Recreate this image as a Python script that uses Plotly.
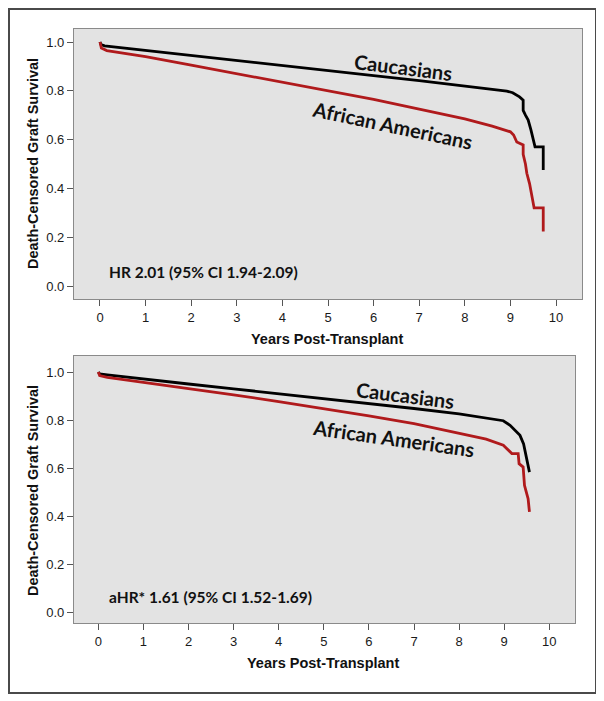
import plotly.graph_objects as go

# ---------------- data ----------------
# Panel 1 (unadjusted)
top_cau_t = [0, 0.02, 0.1, 1, 2, 3, 4, 5, 6, 7, 8, 8.7, 8.92, 9.05, 9.14, 9.2, 9.28, 9.28, 9.33, 9.39, 9.45, 9.50, 9.54, 9.54, 9.72, 9.72]
top_cau_s = [1.0, 0.99, 0.984, 0.965, 0.945, 0.924, 0.903, 0.882, 0.862, 0.842, 0.821, 0.805, 0.799, 0.792, 0.783, 0.775, 0.762, 0.72, 0.70, 0.68, 0.64, 0.60, 0.578, 0.57, 0.57, 0.475]
top_aa_t = [0, 0.03, 0.15, 1, 2, 3, 4, 5, 6, 7, 8, 8.6, 8.92, 9.0, 9.07, 9.14, 9.28, 9.28, 9.33, 9.36, 9.42, 9.47, 9.52, 9.72, 9.72]
top_aa_s = [1.0, 0.975, 0.965, 0.94, 0.905, 0.87, 0.835, 0.80, 0.765, 0.725, 0.685, 0.655, 0.639, 0.632, 0.619, 0.59, 0.578, 0.54, 0.50, 0.462, 0.42, 0.366, 0.32, 0.32, 0.223]

# Panel 2 (adjusted)
bot_cau_t = [0, 0.03, 0.2, 1, 2, 3, 4, 5, 6, 7, 8, 8.6, 8.98, 9.13, 9.24, 9.35, 9.43, 9.48, 9.51, 9.56]
bot_cau_s = [1.0, 0.992, 0.988, 0.97, 0.95, 0.93, 0.91, 0.89, 0.869, 0.848, 0.826, 0.808, 0.797, 0.778, 0.757, 0.736, 0.70, 0.66, 0.625, 0.583]
bot_aa_t = [0, 0.03, 0.2, 1, 2, 3, 4, 5, 6, 7, 8, 8.6, 8.98, 9.09, 9.17, 9.31, 9.33, 9.42, 9.45, 9.48, 9.53, 9.56]
bot_aa_s = [1.0, 0.985, 0.978, 0.958, 0.932, 0.905, 0.877, 0.848, 0.817, 0.785, 0.745, 0.72, 0.695, 0.674, 0.66, 0.66, 0.618, 0.604, 0.528, 0.507, 0.472, 0.417]

x_ticks = [0, 1, 2, 3, 4, 5, 6, 7, 8, 9, 10]
y_ticks = [0.0, 0.2, 0.4, 0.6, 0.8, 1.0]
y_ticks_bot = [0.0, 0.2, 0.4, 0.6, 0.8, 1.0]

group_names = ["Caucasians", "African Americans"]
hr_texts = ["HR 2.01 (95% CI 1.94-2.09)", "aHR* 1.61 (95% CI 1.52-1.69)"]
x_title = "Years Post-Transplant"
y_title = "Death-Censored Graft Survival"

# ---------------- figure ----------------
BLACK = "#000000"
RED = "#b01a1c"
LW = 2.8

fig = go.Figure()
fig.add_trace(go.Scatter(x=top_cau_t, y=top_cau_s, mode="lines", line=dict(color=BLACK, width=LW),
                         xaxis="x", yaxis="y", showlegend=False))
fig.add_trace(go.Scatter(x=top_aa_t, y=top_aa_s, mode="lines", line=dict(color=RED, width=LW),
                         xaxis="x", yaxis="y", showlegend=False))
fig.add_trace(go.Scatter(x=bot_cau_t, y=bot_cau_s, mode="lines", line=dict(color=BLACK, width=LW),
                         xaxis="x2", yaxis="y2", showlegend=False))
fig.add_trace(go.Scatter(x=bot_aa_t, y=bot_aa_s, mode="lines", line=dict(color=RED, width=LW),
                         xaxis="x2", yaxis="y2", showlegend=False))

axis_common = dict(showgrid=False, zeroline=False, showline=True, linecolor="#8a8a8a", linewidth=1.2,
                   mirror=True, ticks="outside", tickcolor="#555555", ticklen=6, tickwidth=1.2,
                   tickfont=dict(family="Liberation Sans, Arial", size=13, color="#1a1a1a"))

# page geometry (the page body adds an 8px offset)
OFF = 8
W, H = 604, 701
L, T = 74 - OFF, 29 - OFF
R = W - (582 - OFF)
B = H - (623 - OFF)
PW, PH = W - L - R, H - T - B

def px_x(px):
    return (px - OFF - L) / PW

def px_y(py):
    return (H - B - (py - OFF)) / PH

fig.update_layout(
    width=W, height=H,
    margin=dict(l=L, r=R, t=T, b=B),
    paper_bgcolor="white",
    plot_bgcolor="#e3e3e3",
    xaxis=dict(domain=[0, 1], anchor="y", range=[-0.57, 10.57], tickvals=x_ticks,
               ticktext=[str(v) for v in x_ticks], **axis_common),
    yaxis=dict(domain=[px_y(299), 1], anchor="x", range=[-0.0533, 1.0533], tickvals=y_ticks,
               ticktext=[f"{v:.1f}" for v in y_ticks], **axis_common),
    xaxis2=dict(domain=[0, px_x(575)], anchor="y2", range=[-0.539, 10.57], tickvals=x_ticks,
                ticktext=[str(v) for v in x_ticks], **axis_common),
    yaxis2=dict(domain=[0, px_y(356)], anchor="x2", range=[-0.0458, 1.0667], tickvals=y_ticks_bot,
                ticktext=[f"{v:.1f}" for v in y_ticks_bot], **axis_common),
)

# outer frame (kept inside the figure canvas)
fig.add_shape(type="rect", xref="paper", yref="paper",
              x0=px_x(9), x1=px_x(596), y0=px_y(693), y1=px_y(9),
              line=dict(color="#4a4a4a", width=2), fillcolor="rgba(0,0,0,0)", layer="above")

ann = []
title_font = dict(family="Liberation Sans, Arial", size=14.5, color="#111111")
# axis titles
ann.append(dict(text=f"<b>{x_title}</b>", xref="paper", yref="paper", x=px_x(327), y=px_y(339),
                showarrow=False, font=title_font, xanchor="center", yanchor="middle"))
ann.append(dict(text=f"<b>{x_title}</b>", xref="paper", yref="paper", x=px_x(323), y=px_y(663),
                showarrow=False, font=title_font, xanchor="center", yanchor="middle"))
ann.append(dict(text=f"<b>{y_title}</b>", xref="paper", yref="paper", x=px_x(33), y=px_y(164),
                showarrow=False, font=title_font, textangle=-90, xanchor="center", yanchor="middle"))
ann.append(dict(text=f"<b>{y_title}</b>", xref="paper", yref="paper", x=px_x(33), y=px_y(491),
                showarrow=False, font=title_font, textangle=-90, xanchor="center", yanchor="middle"))

label_font = dict(family="Lato, Open Sans", size=20, color="#111111")
# curve labels
ann.append(dict(text=f"<b>{group_names[0]}</b>", xref="paper", yref="paper", x=px_x(403), y=px_y(67),
                showarrow=False, font=label_font, textangle=7, xanchor="center", yanchor="middle"))
ann.append(dict(text=f"<b>{group_names[1]}</b>", xref="paper", yref="paper", x=px_x(392), y=px_y(125),
                showarrow=False, font=label_font, textangle=12, xanchor="center", yanchor="middle"))
ann.append(dict(text=f"<b>{group_names[0]}</b>", xref="paper", yref="paper", x=px_x(405), y=px_y(395),
                showarrow=False, font=label_font, textangle=7, xanchor="center", yanchor="middle"))
ann.append(dict(text=f"<b>{group_names[1]}</b>", xref="paper", yref="paper", x=px_x(393), y=px_y(438),
                showarrow=False, font=label_font, textangle=8, xanchor="center", yanchor="middle"))

hr_font = dict(family="Lato, Open Sans", size=15.5, color="#111111")
ann.append(dict(text=f"<b>{hr_texts[0]}</b>", xref="paper", yref="paper", x=px_x(107), y=px_y(272),
                showarrow=False, font=hr_font, xanchor="left", yanchor="middle"))
ann.append(dict(text=f"<b>{hr_texts[1]}</b>", xref="paper", yref="paper", x=px_x(107), y=px_y(597),
                showarrow=False, font=hr_font, xanchor="left", yanchor="middle"))

fig.update_layout(annotations=ann)

fig.write_html("out.html")
